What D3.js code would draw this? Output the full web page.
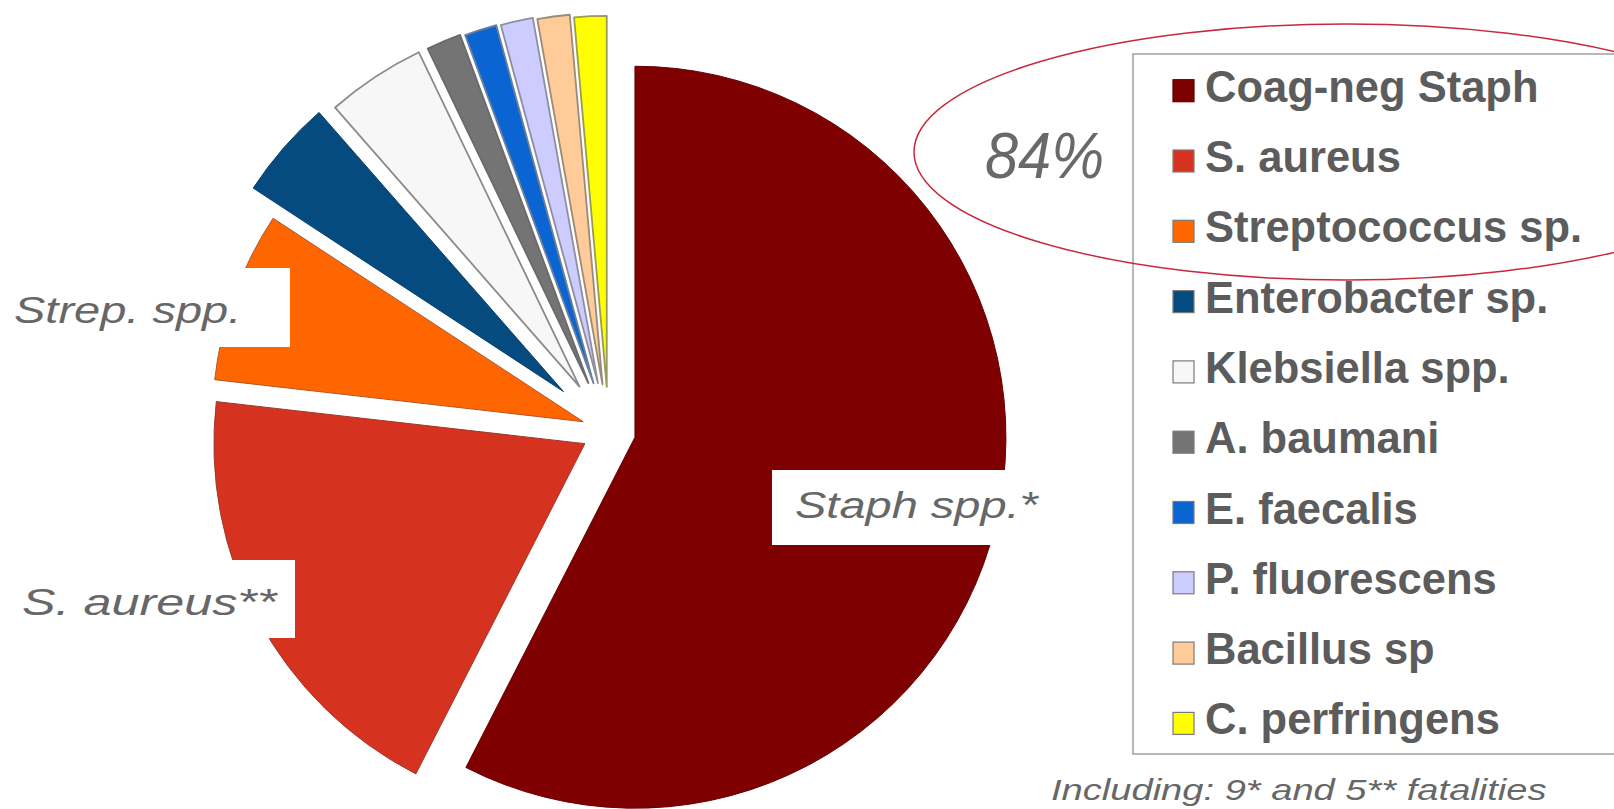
<!DOCTYPE html>
<html>
<head>
<meta charset="utf-8">
<script src="https://cdn.jsdelivr.net/npm/d3@7"></script>
<style>
  html, body { margin: 0; padding: 0; background: #fff; overflow: hidden; }
  svg { display: block; }
</style>
</head>
<body>
<svg id="chart" width="1614" height="809"></svg>
<script>
// Organisms isolated, in pie order (clockwise from 12 o'clock)
const organisms = [
  "Coag-neg Staph", "S. aureus", "Streptococcus sp.", "Enterobacter sp.",
  "Klebsiella spp.", "A. baumani", "E. faecalis", "P. fluorescens",
  "Bacillus sp", "C. perfringens"
];
// Share of isolates (%)
const shares = [57.3, 19.2, 7.4, 4.3, 4.3, 1.5, 1.4, 1.4, 1.4, 1.4];
// Slice call-outs drawn on the pie
const calloutText = ["Staph spp.*", "S. aureus**", "Strep. spp."];
// Organisms grouped in the highlighted total
const highlighted = ["Coag-neg Staph", "S. aureus", "Streptococcus sp."];
const footnote = "Including: 9* and 5** fatalities";

// ---- styling ----
const fills = ["#7f0000", "#d5321f", "#ff6600", "#054b80", "#f7f7f7",
               "#747474", "#0a64d2", "#ccccff", "#ffcc99", "#ffff00"];
const strokes = ["#6a0000", "#9c3a2c", "#b0562a", "#0a3f66", "#8a8a8a",
                 "#6a6a6a", "#6d7f99", "#8e8e9e", "#9a8a7a", "#9a9a5a"];
const explode = [27, 27, 27, 60, 53, 52, 50, 49, 47, 44];

const svg = d3.select("#chart");
const font = "'Liberation Sans', Arial, Helvetica, sans-serif";

// ---- pie ----
const cx = 608.7, cy = 430.9, radius = 371;
const pie = d3.pie().sort(null).value(d => d);
const arcs = pie(shares);
const arc = d3.arc().innerRadius(0).outerRadius(radius);

const pieG = svg.append("g").attr("transform", `translate(${cx},${cy})`);
pieG.selectAll("path.slice")
  .data(arcs)
  .join("path")
  .attr("class", "slice")
  .attr("transform", (d, i) => {
    const mid = (d.startAngle + d.endAngle) / 2;
    return `translate(${Math.sin(mid) * explode[i]},${-Math.cos(mid) * explode[i]})`;
  })
  .attr("d", arc)
  .attr("fill", (d, i) => fills[i])
  .attr("stroke", (d, i) => strokes[i])
  .attr("stroke-width", (d, i) => i < 4 ? 1 : 1.8)
  .attr("stroke-linejoin", "round");

// Wide italic text used for call-outs and the footnote
function wideText(g, x, y, txt, size, sx) {
  return g.append("text")
    .attr("transform", `translate(${x},${y}) scale(${sx},1)`)
    .attr("font-family", font)
    .attr("font-style", "italic")
    .attr("font-size", size)
    .attr("fill", "#676767")
    .text(txt);
}

// ---- slice call-outs with white backing boxes ----
const callouts = [
  { box: [772, 470, 290, 75], x: 795, y: 518, sx: 1.27 },
  { box: [15, 560, 280, 78], x: 22, y: 615, sx: 1.36 },
  { box: [8, 268, 282, 79], x: 14, y: 323, sx: 1.27 }
];
const calloutG = svg.append("g");
callouts.forEach((c, i) => {
  calloutG.append("rect")
    .attr("x", c.box[0]).attr("y", c.box[1])
    .attr("width", c.box[2]).attr("height", c.box[3])
    .attr("fill", "#fff");
  wideText(calloutG, c.x, c.y, calloutText[i], 37, c.sx);
});

// ---- legend ----
const legendX = 1133, legendY = 54, legendW = 520, legendH = 700;
const legendG = svg.append("g");
legendG.append("rect")
  .attr("x", legendX).attr("y", legendY)
  .attr("width", legendW).attr("height", legendH)
  .attr("fill", "#fff")
  .attr("stroke", "#a6a6a6")
  .attr("stroke-width", 1.6);

const rowY = d3.scaleLinear().domain([0, organisms.length - 1]).range([101.7, 734.4]);
const rows = legendG.selectAll("g.row")
  .data(organisms)
  .join("g")
  .attr("class", "row")
  .attr("transform", (d, i) => `translate(0,${rowY(i)})`);
rows.append("rect")
  .attr("x", 1173).attr("y", -22)
  .attr("width", 21).attr("height", 22)
  .attr("fill", (d, i) => fills[i])
  .attr("stroke", (d, i) => i === 0 ? "#5a0000" : "#7a7a7a")
  .attr("stroke-width", 1.2);
rows.append("text")
  .attr("x", 1205).attr("y", 0)
  .attr("font-family", font)
  .attr("font-weight", "bold")
  .attr("font-size", 43.5)
  .attr("fill", "#5c5c5c")
  .text(d => d);

// ---- highlighted total ----
const total = d3.sum(shares);
const groupShare = d3.sum(organisms.map((o, i) => highlighted.includes(o) ? shares[i] : 0));
svg.append("text")
  .attr("transform", "translate(985,178) scale(0.96,1.04)")
  .attr("font-family", font)
  .attr("font-style", "italic")
  .attr("font-size", 62)
  .attr("fill", "#696969")
  .text(d3.format(".0f")(groupShare / total * 100) + "%");

svg.append("ellipse")
  .attr("cx", 1346).attr("cy", 152)
  .attr("rx", 432).attr("ry", 128)
  .attr("fill", "none")
  .attr("stroke", "#c8283e")
  .attr("stroke-width", 1.5);

// ---- footnote ----
wideText(svg, 1051, 800, footnote, 30, 1.27);
</script>
</body>
</html>
